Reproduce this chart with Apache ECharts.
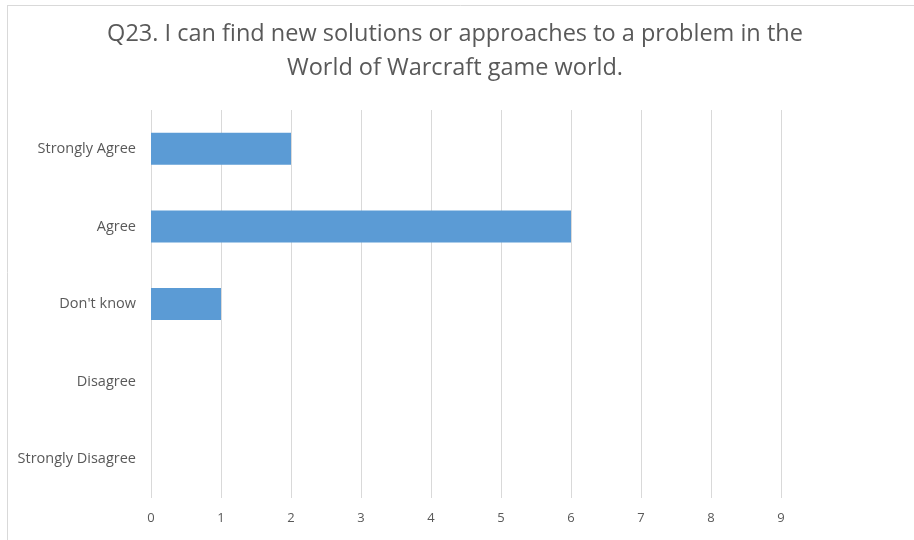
<!DOCTYPE html>
<html><head><meta charset="utf-8">
<script src="https://cdn.jsdelivr.net/npm/echarts@6/dist/echarts.min.js"></script>
<style>html,body{margin:0;padding:0;background:#fff;}#c{width:914px;height:540px;}</style>
</head><body><div id="c"></div>
<script>
const titleText = "Q23. I can find new solutions or approaches to a problem in the\nWorld of Warcraft game world.";
const categories = ["Strongly Agree", "Agree", "Don't know", "Disagree", "Strongly Disagree"];
const values = [2, 6, 1, 0, 0];
const xTicks = [0, 1, 2, 3, 4, 5, 6, 7, 8, 9];

const chart = echarts.init(document.getElementById('c'), null, {renderer: 'canvas'});
chart.setOption({
  animation: false,
  backgroundColor: '#fff',
  title: {
    text: titleText,
    left: 450, top: 12, textAlign: 'center',
    textStyle: {fontFamily: 'Open Sans', fontSize: 23.5, fontWeight: 'normal', color: '#595959', lineHeight: 34}
  },
  graphic: [
    {type: 'line', shape: {x1: 7, y1: 5.5, x2: 914, y2: 5.5}, style: {stroke: '#d9d9d9', lineWidth: 1}},
    {type: 'line', shape: {x1: 7.5, y1: 5, x2: 7.5, y2: 540}, style: {stroke: '#d9d9d9', lineWidth: 1}}
  ],
  grid: {left: 151, right: 133, top: 110, bottom: 42, containLabel: false},
  xAxis: {
    type: 'value', min: 0, max: xTicks[xTicks.length - 1], interval: 1,
    axisLine: {show: false}, axisTick: {show: false},
    splitLine: {show: true, lineStyle: {color: '#d9d9d9', width: 1}},
    axisLabel: {color: '#595959', fontSize: 13, fontFamily: 'Open Sans', margin: 14}
  },
  yAxis: {
    type: 'category', data: categories, inverse: true,
    axisLine: {show: false}, axisTick: {show: false},
    axisLabel: {color: '#595959', fontSize: 14.5, fontFamily: 'Open Sans', margin: 15}
  },
  series: [{
    type: 'bar', data: values, barWidth: 32,
    itemStyle: {color: '#5B9BD5'}
  }]
});
</script></body></html>
